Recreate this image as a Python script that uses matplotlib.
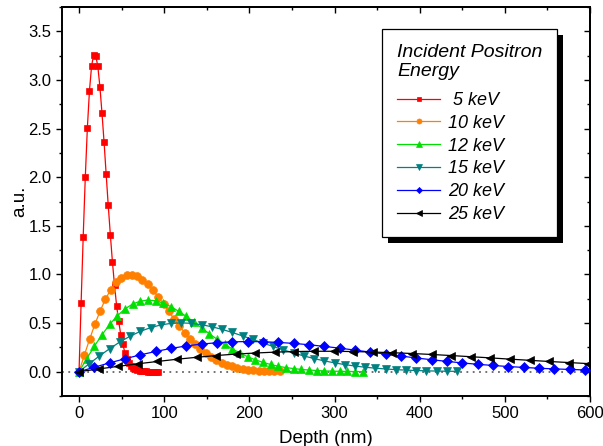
import matplotlib
matplotlib.use('Agg')
import matplotlib.pyplot as plt
from matplotlib.patches import Rectangle
from matplotlib.transforms import IdentityTransform
from matplotlib.ticker import MultipleLocator

plt.rcParams['font.family'] = ['Liberation Sans', 'DejaVu Sans']

# ---- data ----
depth_5 = [0, 2.45, 4.9, 7.35, 9.8, 12.25, 14.7, 17.15, 19.6, 22.05, 24.5, 26.95, 29.4,
           31.85, 34.3, 36.75, 39.2, 41.65, 44.1, 46.55, 49.0, 51.45, 53.9, 56.35, 58.8,
           61.25, 63.7, 66.15, 68.6, 71.05, 73.5, 75.95, 78.4, 80.85, 83.3, 85.75, 88.2,
           90.65, 93.1]
val_5 = [0, 0.71, 1.39, 2.00, 2.51, 2.89, 3.14, 3.26, 3.25, 3.14, 2.93, 2.66, 2.36, 2.03,
         1.71, 1.41, 1.13, 0.89, 0.68, 0.52, 0.38, 0.28, 0.196, 0.135, 0.092, 0.062, 0.040,
         0.026, 0.016, 0.010, 0.006, 0.0035, 0.002, 0.0011, 0.0006, 0.0003, 0.0001, 0.0001, 0.0]

depth_10 = [0, 6.2, 12.4, 18.6, 24.8, 31.0, 37.2, 43.4, 49.6, 55.8, 62.0, 68.2, 74.4, 80.6,
            86.8, 93.0, 99.2, 105.4, 111.6, 117.8, 124.0, 130.2, 136.4, 142.6, 148.8, 155.0,
            161.2, 167.4, 173.6, 179.8, 186.0, 192.2, 198.4, 204.6, 210.8, 217.0, 223.2,
            229.4, 235.6]
val_10 = [0, 0.169, 0.334, 0.487, 0.625, 0.746, 0.844, 0.918, 0.968, 0.995, 0.999, 0.982,
          0.947, 0.898, 0.837, 0.769, 0.695, 0.619, 0.543, 0.471, 0.402, 0.339, 0.283, 0.232,
          0.189, 0.151, 0.120, 0.094, 0.073, 0.055, 0.042, 0.031, 0.022, 0.016, 0.011, 0.008,
          0.005, 0.004, 0.002]

depth_12 = [0, 9, 18, 27, 36, 45, 54, 63, 72, 81, 90, 99, 108, 117, 126, 135, 144, 153, 162,
            171, 180, 189, 198, 207, 216, 225, 234, 243, 252, 261, 270, 279, 288, 297, 306,
            315, 324, 333]
val_12 = [0, 0.133, 0.262, 0.380, 0.486, 0.575, 0.646, 0.696, 0.726, 0.736, 0.729, 0.705,
          0.668, 0.621, 0.568, 0.510, 0.450, 0.391, 0.334, 0.282, 0.234, 0.191, 0.154, 0.122,
          0.096, 0.074, 0.056, 0.042, 0.032, 0.023, 0.017, 0.012, 0.008, 0.0055, 0.0037,
          0.0024, 0.0015, 0.0009]

depth_15 = [0, 12, 24, 36, 48, 60, 72, 84, 96, 108, 120, 132, 144, 156, 168, 180, 192, 204,
            216, 228, 240, 252, 264, 276, 288, 300, 312, 324, 336, 348, 360, 372, 384, 396,
            408, 420, 432, 444]
val_15 = [0, 0.082, 0.162, 0.237, 0.306, 0.365, 0.415, 0.453, 0.481, 0.497, 0.502, 0.497,
          0.483, 0.462, 0.435, 0.403, 0.368, 0.332, 0.295, 0.259, 0.224, 0.192, 0.162, 0.135,
          0.111, 0.091, 0.073, 0.058, 0.046, 0.036, 0.028, 0.021, 0.016, 0.012, 0.0087,
          0.0063, 0.0046, 0.0033]

depth_20 = [0, 18, 36, 54, 72, 90, 108, 126, 144, 162, 180, 198, 216, 234, 252, 270, 288,
            306, 324, 342, 360, 378, 396, 414, 432, 450, 468, 486, 504, 522, 540, 558, 576,
            594, 612, 630]
val_20 = [0, 0.046, 0.091, 0.133, 0.173, 0.208, 0.239, 0.265, 0.284, 0.298, 0.307, 0.310,
          0.308, 0.301, 0.291, 0.277, 0.260, 0.242, 0.222, 0.201, 0.181, 0.161, 0.141, 0.123,
          0.106, 0.090, 0.076, 0.064, 0.053, 0.044, 0.035, 0.029, 0.023, 0.018, 0.014, 0.011]

depth_25 = [0, 23, 46, 69, 92, 115, 138, 161, 184, 207, 230, 253, 276, 299, 322, 345, 368,
            391, 414, 437, 460, 483, 506, 529, 552, 575, 598, 621]
val_25 = [0, 0.028, 0.055, 0.081, 0.105, 0.128, 0.148, 0.166, 0.181, 0.192, 0.201, 0.207,
          0.210, 0.210, 0.207, 0.202, 0.195, 0.187, 0.177, 0.166, 0.154, 0.142, 0.129, 0.117,
          0.105, 0.094, 0.083, 0.073]

labels = [' 5 keV', '10 keV', '12 keV', '15 keV', '20 keV', '25 keV']
legend_title = 'Incident Positron\nEnergy'
x_label = 'Depth (nm)'
y_label = 'a.u.'

series = [(depth_5, val_5), (depth_10, val_10), (depth_12, val_12),
          (depth_15, val_15), (depth_20, val_20), (depth_25, val_25)]
colors = ['#ff0000', '#ff8000', '#00e000', '#008080', '#0000ff', '#000000']
markers = ['s', 'o', '^', 'v', 'D', '<']
msizes = [5.0, 5.6, 6.0, 6.0, 4.8, 6.0]

fig = plt.figure(figsize=(6.03, 4.46), dpi=100)
ax = fig.add_axes([62 / 603, 1 - 396 / 446, (590 - 62) / 603, (396 - 7) / 446])

ax.axhline(0, color='#666666', lw=1.3, ls=(0, (1, 2.5)), zorder=1)

lines = []
for (xs, ys), c, m, ms, lab in zip(series, colors, markers, msizes, labels):
    ln, = ax.plot(xs, ys, color=c, marker=m, ms=ms, mec=c, mfc=c, mew=0.5, lw=0.9,
                  label=lab, zorder=3)
    lines.append(ln)

ax.set_xlim(-20, 600)
ax.set_ylim(-0.25, 3.75)
ax.xaxis.set_major_locator(MultipleLocator(100))
ax.xaxis.set_minor_locator(MultipleLocator(50))
ax.yaxis.set_major_locator(MultipleLocator(0.5))
ax.yaxis.set_minor_locator(MultipleLocator(0.25))
ax.yaxis.set_major_formatter(matplotlib.ticker.FormatStrFormatter('%.1f'))

for s in ax.spines.values():
    s.set_linewidth(1.4)

ax.tick_params(which='major', direction='out', length=4.5, width=1.0, labelsize=12, pad=3)
ax.tick_params(which='minor', direction='out', length=2.5, width=1.0)

secx = ax.secondary_xaxis('top')
secx.xaxis.set_major_locator(MultipleLocator(100))
secx.xaxis.set_minor_locator(MultipleLocator(50))
secx.tick_params(which='major', direction='in', length=4.5, width=1.0, labeltop=False)
secx.tick_params(which='minor', direction='in', length=2.5, width=1.0)
secx.spines['top'].set_linewidth(1.4)

secy = ax.secondary_yaxis('right')
secy.yaxis.set_major_locator(MultipleLocator(0.5))
secy.yaxis.set_minor_locator(MultipleLocator(0.25))
secy.tick_params(which='major', direction='in', length=4.5, width=1.0, labelright=False)
secy.tick_params(which='minor', direction='in', length=2.5, width=1.0)
secy.spines['right'].set_linewidth(1.4)

ax.set_xlabel(x_label, fontsize=13.5, labelpad=6)
ax.set_ylabel(y_label, fontsize=13.5, labelpad=0)

leg = ax.legend(handles=lines, title=legend_title, loc='upper left',
                bbox_to_anchor=(0.607, 0.943), borderaxespad=0,
                prop={'style': 'italic', 'size': 13},
                title_fontproperties={'style': 'italic', 'size': 14},
                alignment='left', fancybox=False, framealpha=1, edgecolor='black',
                handlelength=2.4, handletextpad=0.45, labelspacing=0.32,
                borderpad=0.8, markerscale=0.65)
leg._legend_box.sep = 8.5
leg.get_frame().set_linewidth(0.9)
leg.set_zorder(10)

fig.canvas.draw()
bb = leg.get_window_extent()
shadow = Rectangle((bb.x0 + 6, bb.y0 - 6), bb.width, bb.height, transform=IdentityTransform(),
                   facecolor='black', edgecolor='none', zorder=9, clip_on=False)
ax.add_artist(shadow)

fig.savefig('out.png', dpi=100)
